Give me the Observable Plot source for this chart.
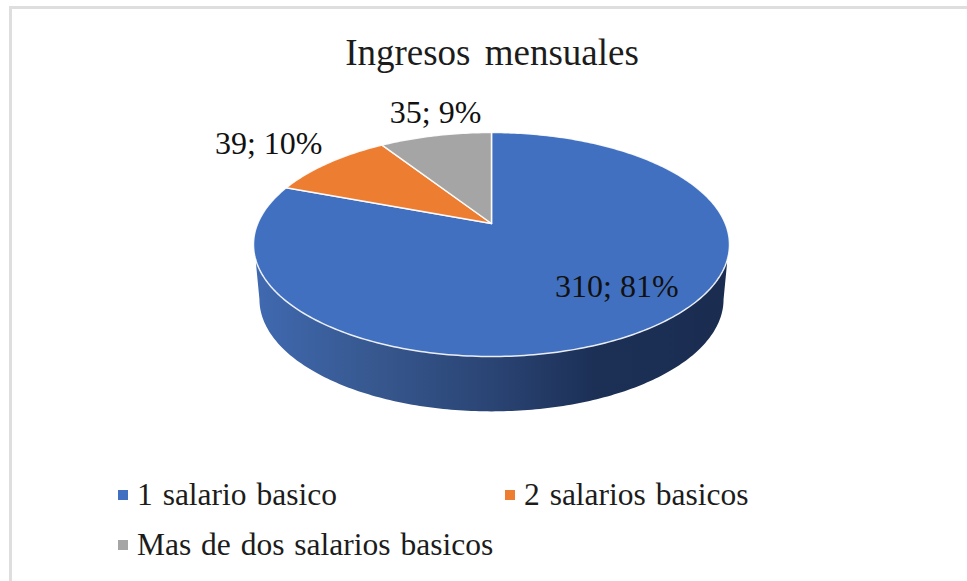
<!DOCTYPE html>
<html lang="es">
<head>
<meta charset="utf-8">
<script src="https://cdn.jsdelivr.net/npm/d3@7"></script>
<script src="https://cdn.jsdelivr.net/npm/@observablehq/plot@0.6"></script>
<style>
  html, body { margin: 0; padding: 0; background: #fff; overflow: hidden; }
  #frame { position: relative; width: 967px; height: 581px; box-sizing: border-box;
           font-family: "Liberation Serif", serif; color: #1c1c1c; overflow: hidden; }
  #frame::before { content: ""; position: absolute; left: 9px; top: 6px; right: 0; bottom: 0;
           border-left: 3px solid #dedede; border-top: 3px solid #dedede; }
  #title { position: absolute; left: 0; width: 984px; top: 32px; text-align: center;
           font-size: 37px; line-height: 42px; word-spacing: 5px; }
  #chart { position: absolute; left: 0; top: 80px; }
  .entry { position: absolute; font-size: 31.5px; line-height: 36px; white-space: nowrap; word-spacing: 2px; }
  .entry i { position: absolute; left: -19px; top: 13px; width: 10px; height: 10px; }
</style>
</head>
<body>
<div id="frame">
  <div id="title"></div>
  <div id="chart"></div>
  <div id="legend"></div>
</div>
<script>
const chartTitle = "Ingresos mensuales";
const categories = ["1 salario basico", "2 salarios basicos", "Mas de dos salarios basicos"];
const values = [310, 39, 35];
const colors = ["#4170c0", "#ed7d31", "#a5a5a5"];

// Layout of the drawing (not data)
const W = 967, H = 390;
const tilt = 0.1875;          // perspective shift of the pie's centre inside its ellipse
const drop = 1.0;             // vertical radius of the lower ellipse, in pie units
const dropShift = 0.49;       // offset of the lower ellipse below the upper one
const lowerX = 0.975;         // lower ellipse is a little narrower
const labelDx = [-32, -60, 0];
const labelDy = [-42, -19, -23];
const legendPlace = [[137, 477], [524, 477], [137, 527]];

const total = d3.sum(values);
const arcs = d3.pie().sort(null).startAngle(0).endAngle(2 * Math.PI)(values);

// A point of the unit circle seen in perspective: still on the unit circle, centre shifted upward.
function edge(theta) {
  const v = Math.cos(theta), u = Math.sin(theta);
  const k = 1 + tilt * v;
  return { x: u * Math.sqrt(1 - tilt * tilt) / k, y: (v + tilt) / k };
}

const slicePoints = arcs.flatMap((a, i) => {
  const n = Math.max(8, Math.ceil((a.endAngle - a.startAngle) * 60));
  const rim = d3.range(n + 1).map(j => edge(a.startAngle + (a.endAngle - a.startAngle) * j / n));
  const apex = { x: 0, y: tilt };
  return [apex, ...rim, apex].map(p => ({ ...p, category: categories[i] }));
});

const sidePoints = [
  ...d3.range(0, 181).map(d => {
    const t = Math.PI * d / 180;
    return { x: -lowerX * Math.cos(t), y: -drop * Math.sin(t) - dropShift };
  }),
  { x: 0.99, y: -0.16 },
  { x: -0.99, y: -0.16 }
];

const labelData = arcs.map((a, i) => {
  const p = edge((a.startAngle + a.endAngle) / 2);
  return { ...p, text: `${values[i]}; ${Math.round(values[i] / total * 100)}%`, i };
});

function shade() {
  const defs = d3.create("svg:defs");
  const g = defs.append("linearGradient").attr("id", "sideShade")
    .attr("x1", "0").attr("x2", "1").attr("y1", "0").attr("y2", "0");
  [[0, "#4069b0"], [0.25, "#37588f"], [0.5, "#2a4474"], [0.72, "#1c3056"], [1, "#1a2c50"]]
    .forEach(([o, c]) => g.append("stop").attr("offset", o).attr("stop-color", c));
  return defs.node();
}

document.getElementById("title").textContent = chartTitle;

const chart = Plot.plot({
  width: W, height: H,
  margin: 0,
  style: { background: "transparent", overflow: "visible" },
  x: { domain: [-1, 1], range: [253, 729], axis: null },
  y: { domain: [-1, 1], range: [276, 52], axis: null },
  color: { domain: categories, range: colors },
  marks: [
    shade,
    Plot.line(sidePoints, { x: "x", y: "y", fill: "url(#sideShade)", stroke: "none" }),
    Plot.line(slicePoints, {
      x: "x", y: "y", z: "category", fill: "category",
      stroke: "#fff", strokeWidth: 1.5, strokeLinejoin: "round", strokeOpacity: 0.9
    }),
    ...labelData.map((d, i) => Plot.text([d], {
      x: "x", y: "y", text: "text", dx: labelDx[i], dy: labelDy[i],
      fontFamily: "Liberation Serif, serif", fontSize: 32, fill: "#111"
    }))
  ]
});
document.getElementById("chart").append(chart);

const legend = document.getElementById("legend");
categories.forEach((c, i) => {
  const e = document.createElement("div");
  e.className = "entry";
  e.style.left = legendPlace[i][0] + "px";
  e.style.top = legendPlace[i][1] + "px";
  e.textContent = c;
  const s = document.createElement("i");
  s.style.background = colors[i];
  e.prepend(s);
  legend.append(e);
});
</script>
</body>
</html>
